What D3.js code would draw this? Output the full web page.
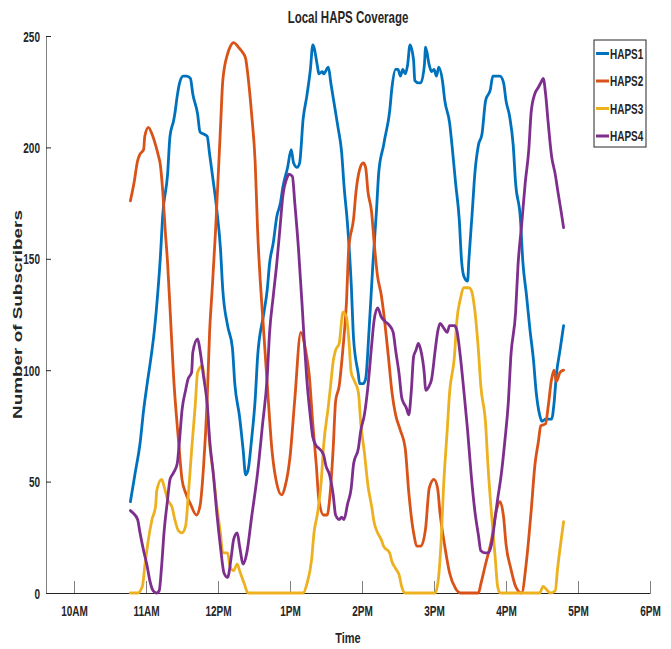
<!DOCTYPE html>
<html>
<head>
<meta charset="utf-8">
<script src="https://cdn.jsdelivr.net/npm/d3@7"></script>
<style>
  body { margin: 0; background: #fff; }
  text { font-family: Arial, "Liberation Sans", Helvetica, sans-serif; font-weight: bold; fill: #262626; }
</style>
</head>
<body>
<svg id="chart" width="671" height="649"></svg>
<script>
// Subscribers served by each HAPS over the day; times are minutes after 10:00 AM
const seriesNames = ["HAPS1", "HAPS2", "HAPS3", "HAPS4"];
const seriesColors = ["#0072BD", "#D95319", "#EDB120", "#7E2F8E"];

const haps1Min = [47,51,55,58,61,65,67,70,72,74,78,80,83,84,86,88,91,94,97,99,103,105,108,111,113,116,119,122,124,128,132,134,138,141,143,145,148,151,153,158,161,163,166,169,172,174,178,181,183,186,188,191,194,197,199,203,204,207,208,212,214,217,220,223,225,228,231,233,237,238,241,243,246,249,252,254,258,259,263,265,268,270,272,274,276,278,280,283,284,287,289,292,293,296,298,300,302,304,307,309,313,315,318,321,323,325,328,329,332,334,337,340,343,347,349,352,355,358,360,363,366,368,372,374,377,380,383,385,388,390,393,398,400,402,405,408];
const haps1Val = [41,54,67,82,94,109,118,136,151,170,188,205,212,215,223,229,232,232,231,224,215,207,206,205,197,185,172,155,136,120,110,94,79,64,53,55,69,87,106,125,136,148,157,169,175,182,191,199,193,191,193,213,223,235,246,236,233,234,233,236,229,219,209,198,183,165,139,114,98,94,94,96,119,147,171,189,201,204,216,227,235,235,232,235,233,237,246,239,230,229,229,237,245,237,234,235,232,236,230,221,211,201,184,168,149,142,140,149,172,188,201,206,221,226,232,232,232,229,221,214,201,184,168,149,134,118,104,91,80,77,78,78,85,98,109,120];

const haps2Min = [47,50,53,55,58,59,62,65,68,70,72,74,76,78,80,83,87,90,93,97,102,105,108,111,113,115,118,122,124,128,130,133,137,140,143,145,148,151,153,158,161,165,169,173,176,180,184,189,193,196,199,202,204,208,211,213,216,218,221,224,227,229,233,235,238,241,243,245,248,250,253,256,258,262,265,268,272,276,279,283,286,289,293,296,300,303,305,309,313,318,322,337,339,343,348,352,355,358,360,364,368,373,377,381,384,387,389,393,395,398,400,402,405,408];
const haps2Val = [176,184,194,197,199,205,209,206,201,197,192,180,163,148,128,97,69,51,45,40,35,39,57,87,117,135,163,208,230,242,245,247,245,243,240,232,215,193,163,118,94,64,49,44,48,61,87,117,109,98,76,57,42,35,35,42,65,86,93,109,130,155,168,180,190,193,191,180,171,158,142,134,126,106,90,80,73,65,45,27,21,21,29,47,51,47,36,21,9,2,0,0,4,13,24,37,41,34,22,11,3,0,14,37,57,68,75,76,83,96,100,95,99,100];

const haps3Min = [47,53,57,59,62,65,68,69,73,75,78,82,84,87,90,93,95,98,101,103,107,108,111,113,116,119,122,124,128,130,133,136,138,142,145,191,194,198,200,203,206,208,212,214,216,218,221,223,224,227,229,231,233,237,239,242,245,248,250,253,256,258,263,265,268,271,273,276,301,304,306,308,311,313,317,319,322,325,329,331,334,337,339,343,345,348,351,353,355,388,391,393,397,401,403,406,408];
const haps3Val = [0,0,3,12,24,33,39,46,51,48,42,38,33,28,27,30,42,64,84,99,102,99,84,67,54,39,27,18,18,12,10,13,10,4,0,0,4,15,27,36,50,66,84,94,104,109,112,122,126,124,114,99,96,90,76,63,48,39,32,27,24,21,18,14,11,8,3,0,0,8,24,48,73,90,106,122,132,137,137,136,127,109,93,76,57,35,16,3,0,0,3,2,0,1,11,24,32];

const haps4Min = [47,49,53,55,58,61,63,66,69,71,73,75,78,80,83,86,88,90,93,95,98,99,103,105,108,111,113,116,119,122,125,128,131,133,136,138,141,144,148,153,157,161,163,166,169,172,174,178,179,182,184,187,190,192,194,197,199,202,204,208,210,213,216,218,221,223,225,228,231,233,237,239,242,245,248,250,253,256,259,263,266,268,271,273,275,277,279,281,283,285,287,289,292,293,296,298,301,303,305,308,311,313,317,319,322,325,328,331,334,337,339,343,345,348,351,353,356,359,362,364,368,370,373,376,379,381,384,387,389,391,393,395,398,401,403,406,408];
const haps4Val = [37,36,33,27,19,12,6,1,0,1,12,27,42,51,54,58,69,82,91,96,99,108,114,109,97,85,69,54,36,21,9,7,16,24,27,21,13,18,34,54,75,97,117,133,148,166,178,187,188,187,175,155,130,112,96,79,70,66,65,62,57,53,44,35,33,34,33,40,47,58,65,73,80,93,111,122,128,124,122,120,117,109,98,88,85,83,80,90,106,109,112,109,98,91,93,96,109,117,121,119,117,120,120,118,106,90,73,53,37,26,19,18,18,22,34,42,53,68,86,106,126,147,165,184,199,216,224,227,229,231,224,212,196,188,181,171,164];

const timeTickMin = [0, 60, 120, 180, 240, 300, 360, 420, 480];
const timeTickLabels = ["10AM", "11AM", "12PM", "1PM", "2PM", "3PM", "4PM", "5PM", "6PM"];
const countTicks = [0, 50, 100, 150, 200, 250];

const seriesMinutes = [haps1Min, haps2Min, haps3Min, haps4Min];
const seriesValues = [haps1Val, haps2Val, haps3Val, haps4Val];

const svg = d3.select("#chart");
const plot = { left: 46, right: 650, top: 36, bottom: 593 };
const stretch = 1.4; // figure text is drawn taller than wide

const x = d3.scaleLinear().domain([-23.33, 480]).range([plot.left, plot.right]);
const y = d3.scaleLinear().domain([0, 250]).range([plot.bottom, plot.top]);

// x axis with inward ticks
const gx = svg.append("g")
  .attr("transform", `translate(0,${plot.bottom})`)
  .call(d3.axisBottom(x).tickValues(timeTickMin)
    .tickFormat((d, i) => timeTickLabels[i])
    .tickSizeInner(-12).tickSizeOuter(0));
gx.select(".domain").attr("stroke", "#262626").attr("stroke-width", 1.2);
gx.selectAll(".tick line").attr("stroke", "#808080");
gx.selectAll(".tick text")
  .attr("y", null).attr("dy", null)
  .attr("font-size", 10)
  .attr("transform", `translate(0,23) scale(1,${stretch})`);

// y axis with inward ticks
const gy = svg.append("g")
  .attr("transform", `translate(${plot.left},0)`)
  .call(d3.axisLeft(y).tickValues(countTicks).tickSizeInner(-5).tickSizeOuter(0));
gy.select(".domain").attr("stroke", "#808080").attr("stroke-width", 1);
gy.selectAll(".tick line").attr("stroke", "#262626");
gy.selectAll(".tick text")
  .attr("x", null).attr("dy", null)
  .attr("font-size", 10)
  .attr("text-anchor", "end")
  .attr("transform", `translate(-6,5) scale(1,${stretch})`);

// series lines
const line = d3.line()
  .x(d => x(d[0]))
  .y(d => y(d[1]))
  .curve(d3.curveMonotoneX);

seriesNames.forEach((name, i) => {
  const pts = seriesMinutes[i].map((m, j) => [m, seriesValues[i][j]]);
  svg.append("path")
    .datum(pts)
    .attr("fill", "none")
    .attr("stroke", seriesColors[i])
    .attr("stroke-width", 2.8)
    .attr("stroke-linejoin", "round")
    .attr("stroke-linecap", "round")
    .attr("d", line);
});

// title and axis labels
svg.append("text")
  .attr("text-anchor", "middle")
  .attr("font-size", 11.5)
  .attr("transform", `translate(${(plot.left + plot.right) / 2},23) scale(1,${stretch})`)
  .text("Local HAPS Coverage");

svg.append("text")
  .attr("text-anchor", "middle")
  .attr("font-size", 11)
  .attr("transform", `translate(${(plot.left + plot.right) / 2},643) scale(1,${stretch})`)
  .text("Time");

svg.append("text")
  .attr("text-anchor", "middle")
  .attr("font-size", 13.5)
  .attr("transform", `translate(22,${(plot.top + plot.bottom) / 2}) rotate(-90) scale(${stretch},1)`)
  .text("Number of Subscribers");

// legend
const legend = svg.append("g");
legend.append("rect")
  .attr("x", 594).attr("y", 40).attr("width", 52).attr("height", 107)
  .attr("fill", "#fff").attr("stroke", "#262626").attr("stroke-width", 1);
seriesNames.forEach((name, i) => {
  const cy = 53.5 + i * 27.5;
  legend.append("line")
    .attr("x1", 596).attr("x2", 609).attr("y1", cy).attr("y2", cy)
    .attr("stroke", seriesColors[i]).attr("stroke-width", 3);
  legend.append("text")
    .attr("font-size", 10)
    .attr("transform", `translate(610,${cy + 5}) scale(1,${stretch})`)
    .text(name);
});
</script>
</body>
</html>
